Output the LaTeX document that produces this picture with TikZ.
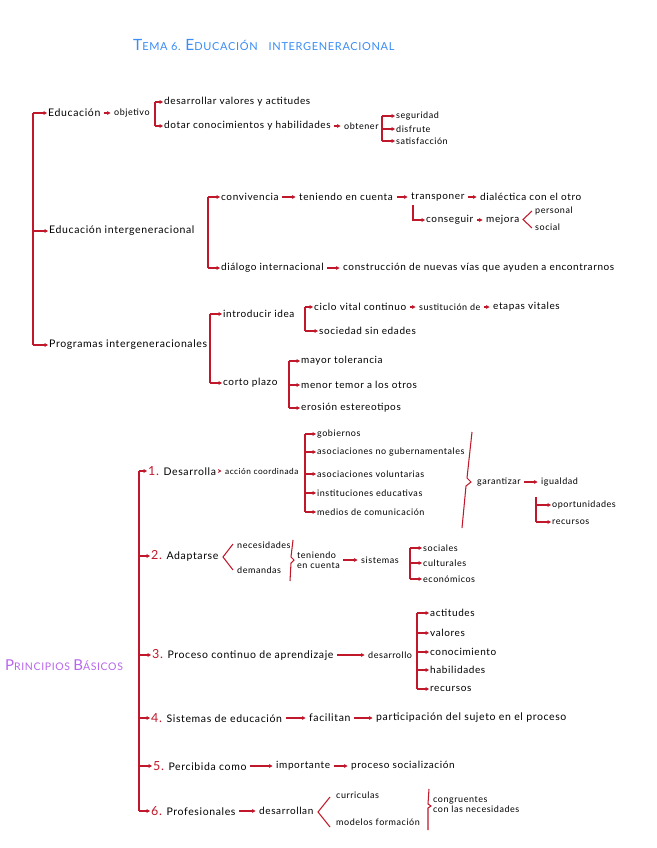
\documentclass[tikz,border=0pt]{standalone}
\usepackage{fontspec}
\setmainfont{Lato}[LetterSpace=6]
\usetikzlibrary{arrows.meta}
\definecolor{rd}{HTML}{C0182A}
\definecolor{bl}{HTML}{3A8DF5}
\definecolor{pu}{HTML}{B866EE}
\newcommand\rnum[1]{{\color{rd}\fontsize{12.5}{12.5}\selectfont #1}}
\begin{document}
\begin{tikzpicture}[x=1pt,y=-1pt,
 tx/.style={anchor=west,inner sep=1pt,font=\fontsize{10}{11}\selectfont},
 bg/.style={anchor=west,inner sep=1pt,font=\fontsize{10.5}{12}\selectfont},
 sm/.style={anchor=west,inner sep=1pt,font=\fontsize{9}{10}\selectfont},
 xs/.style={anchor=west,inner sep=1pt,font=\fontsize{8.3}{9}\selectfont},
 rl/.style={draw=rd,line width=1.05pt},
 ar/.style={rl,-{Stealth[length=3.6pt,width=4pt]}},
 lk/.style={ar,shorten <=2.5pt,shorten >=2.5pt},
]
\useasboundingbox (0,0) rectangle (656,848);
\fill[white] (0,0) rectangle (656,848);

% title
\node[anchor=west,inner sep=0pt,text=bl] (title) at (133,45)
 {\fontsize{15.5}{15}\selectfont T\fontsize{11}{12}\selectfont EMA 6. \fontsize{15.5}{15}\selectfont E\fontsize{11}{12}\selectfont DUCACIÓN\quad INTERGENERACIONAL};

% ---------- top block ----------
\node[bg] (edu) at (47,113) {Educación};
\node[sm] (obj) at (113,113) {objetivo};
\node[tx] (des) at (163,102) {desarrollar valores y actitudes};
\node[tx] (dot) at (163,126) {dotar conocimientos y habilidades};
\node[sm] (obt) at (343,126) {obtener};
\node[sm] (seg) at (395,116) {seguridad};
\node[sm] (dis) at (395,129) {disfrute};
\node[sm] (sat) at (395,141) {satisfacción};

\node[bg] (ei) at (48,231) {Educación intergeneracional};
\node[tx] (conv) at (220,197) {convivencia};
\node[tx] (ten) at (298,197) {teniendo en cuenta};
\node[tx] (tra) at (410,197) {transponer};
\node[tx] (dia) at (479,197) {dialéctica con el otro};
\node[tx] (con) at (425,220) {conseguir};
\node[tx] (mej) at (485,220) {mejora};
\node[sm] (per) at (534,211) {personal};
\node[sm] (soc) at (534,227) {social};
\node[tx] (dial) at (220,268) {diálogo internacional};
\node[tx] (cons) at (342,268) {construcción de nuevas vías que ayuden a encontrarnos};

\node[bg] (pi) at (48,345) {Programas intergeneracionales};
\node[tx] (intr) at (222,314) {introducir idea};
\node[tx] (cor) at (222,383) {corto plazo};
\node[tx] (cic) at (313,307) {ciclo vital continuo};
\node[sm] (sus) at (418,307) {sustitución de};
\node[tx] (eta) at (492,307) {etapas vitales};
\node[tx] (soc2) at (318,331) {sociedad sin edades};
\node[tx] (may) at (300,361) {mayor tolerancia};
\node[tx] (men) at (300,385) {menor temor a los otros};
\node[tx] (ero) at (300,408) {erosión estereotipos};

% connectors top
\coordinate (m1) at (33,0);
\draw[rl] (m1 |- edu.west) -- (m1 |- pi.west);
\foreach \n in {edu,ei,pi} \draw[ar] (m1 |- \n.west) -- (\n.west);

\draw[lk] (edu.east) -- (obj.west);
\coordinate (b1) at (155,0);
\draw[rl] (b1 |- des.west) -- (b1 |- dot.west);
\foreach \n in {des,dot} \draw[ar] (b1 |- \n.west) -- (\n.west);
\draw[lk] (dot.east) -- (obt.west);
\coordinate (b2) at (382,0);
\draw[rl] (b2 |- seg.west) -- (b2 |- sat.west);
\foreach \n in {seg,dis,sat} \draw[ar] (b2 |- \n.west) -- (\n.west);

\coordinate (b3) at (208,0);
\draw[rl] (b3 |- conv.west) -- (b3 |- dial.west);
\foreach \n in {conv,dial} \draw[ar] (b3 |- \n.west) -- (\n.west);
\draw[lk] (conv.east) -- (ten.west);
\draw[lk] (ten.east) -- (tra.west);
\draw[lk] (tra.east) -- (dia.west);
\coordinate (l1) at (413,205);
\draw[ar] (l1) |- (con.west);
\draw[lk] (con.east) -- (mej.west);
\draw[rl] (532,211) -- (523,219.5) -- (532,228);
\draw[lk] (dial.east) -- (cons.west);

\coordinate (b4) at (210,0);
\draw[rl] (b4 |- intr.west) -- (b4 |- cor.west);
\foreach \n in {intr,cor} \draw[ar] (b4 |- \n.west) -- (\n.west);
\coordinate (b5) at (305,0);
\draw[rl] (b5 |- cic.west) -- (b5 |- soc2.west);
\foreach \n in {cic,soc2} \draw[ar] (b5 |- \n.west) -- (\n.west);
\draw[lk] (cic.east) -- (sus.west);
\draw[lk] (sus.east) -- (eta.west);
\coordinate (b6) at (289,0);
\draw[rl] (b6 |- may.west) -- (b6 |- ero.west);
\foreach \n in {may,men,ero} \draw[ar] (b6 |- \n.west) -- (\n.west);

% ---------- principios ----------
\node[anchor=west,inner sep=0pt,text=pu] (pb) at (5,665)
 {\fontsize{15}{15}\selectfont P\fontsize{10.5}{11}\selectfont RINCIPIOS \fontsize{15}{15}\selectfont B\fontsize{10.5}{11}\selectfont ÁSICOS};

\node[bg] (n1) at (147,471) {\rnum{1.} Desarrolla};
\node[xs] (acc) at (224,471) {acción coordinada};
\node[sm] (gob) at (316,434) {gobiernos};
\node[sm] (aso) at (316,452) {asociaciones no gubernamentales};
\node[sm] (vol) at (316,474) {asociaciones voluntarias};
\node[sm] (ins) at (316,493) {instituciones educativas};
\node[sm] (med) at (316,512) {medios de comunicación};
\node[sm] (gar) at (476,482) {garantizar};
\node[sm] (igu) at (540,482) {igualdad};
\node[sm] (opo) at (551,505) {oportunidades};
\node[sm] (rec) at (551,522) {recursos};

\node[bg] (n2) at (150,556) {\rnum{2.} Adaptarse};
\node[sm] (nec) at (236,545) {necesidades};
\node[sm] (dem) at (236,570) {demandas};
\node[sm,align=left] (ten2) at (296,560) {teniendo\\en cuenta};
\node[sm] (sis) at (360,560) {sistemas};
\node[sm] (socs) at (422,548) {sociales};
\node[sm] (cul) at (422,563) {culturales};
\node[sm] (eco) at (422,579) {económicos};

\node[bg] (n3) at (151,655) {\rnum{3.} Proceso continuo de aprendizaje};
\node[sm] (desa) at (367,655) {desarrollo};
\node[tx] (act) at (429,613) {actitudes};
\node[tx] (val) at (429,633) {valores};
\node[tx] (cono) at (429,652) {conocimiento};
\node[tx] (hab) at (429,670) {habilidades};
\node[tx] (recu) at (429,689) {recursos};

\node[bg] (n4) at (150,718) {\rnum{4.} Sistemas de educación};
\node[bg] (fac) at (308,718) {facilitan};
\node[bg] (par) at (375,718) {participación del sujeto en el proceso};

\node[bg] (n5) at (152,766) {\rnum{5.} Percibida como};
\node[tx] (imp) at (275,766) {importante};
\node[tx] (proc) at (350,766) {proceso socialización};

\node[bg] (n6) at (150,811) {\rnum{6.} Profesionales};
\node[tx] (desr) at (258,811) {desarrollan};
\node[sm] (cur) at (335,795) {curriculas};
\node[sm] (mod) at (335,822) {modelos formación};
\node[sm,align=left] (cong) at (432,805) {congruentes\\con las necesidades};

% connectors principios
\coordinate (m2) at (139,0);
\draw[rl] (m2 |- n1.west) -- (m2 |- n6.west);
\foreach \n in {n1,n2,n3,n4,n5,n6} \draw[ar] (m2 |- \n.west) -- (\n.west);

\draw[lk] (n1.east) -- (acc.west);
\coordinate (b7) at (305,0);
\draw[rl] (b7 |- gob.west) -- (b7 |- med.west);
\foreach \n in {gob,aso,vol,ins,med} \draw[ar] (b7 |- \n.west) -- (\n.west);
\draw[rl] (472,432) -- (467,478) -- (471,482) -- (466,486) -- (462,528);
\draw[lk] (gar.east) -- (igu.west);
\coordinate (b8) at (536,497);
\draw[rl] (b8) -- (b8 |- rec.west);
\foreach \n in {opo,rec} \draw[ar] (b8 |- \n.west) -- (\n.west);

\draw[rl] (233,544) -- (223,557) -- (233,570);
\draw[rl] (293,540) -- (291,557) -- (294,560) -- (291,563) -- (290,581);
\draw[lk] (ten2.east) -- (sis.west);
\coordinate (b9) at (410,0);
\draw[rl] (b9 |- socs.west) -- (b9 |- eco.west);
\foreach \n in {socs,cul,eco} \draw[ar] (b9 |- \n.west) -- (\n.west);

\draw[lk] (n3.east) -- (desa.west);
\coordinate (b10) at (417,0);
\draw[rl] (b10 |- act.west) -- (b10 |- recu.west);
\foreach \n in {act,val,cono,hab,recu} \draw[ar] (b10 |- \n.west) -- (\n.west);

\draw[lk] (n4.east) -- (fac.west);
\draw[lk] (fac.east) -- (par.west);
\draw[lk] (n5.east) -- (imp.west);
\draw[lk] (imp.east) -- (proc.west);
\draw[lk] (n6.east) -- (desr.west);
\draw[rl] (330,797) -- (318,812) -- (330,827);
\draw[rl] (429,789) -- (428,804) -- (431,806) -- (428,808) -- (428,830);
\end{tikzpicture}
\end{document}
